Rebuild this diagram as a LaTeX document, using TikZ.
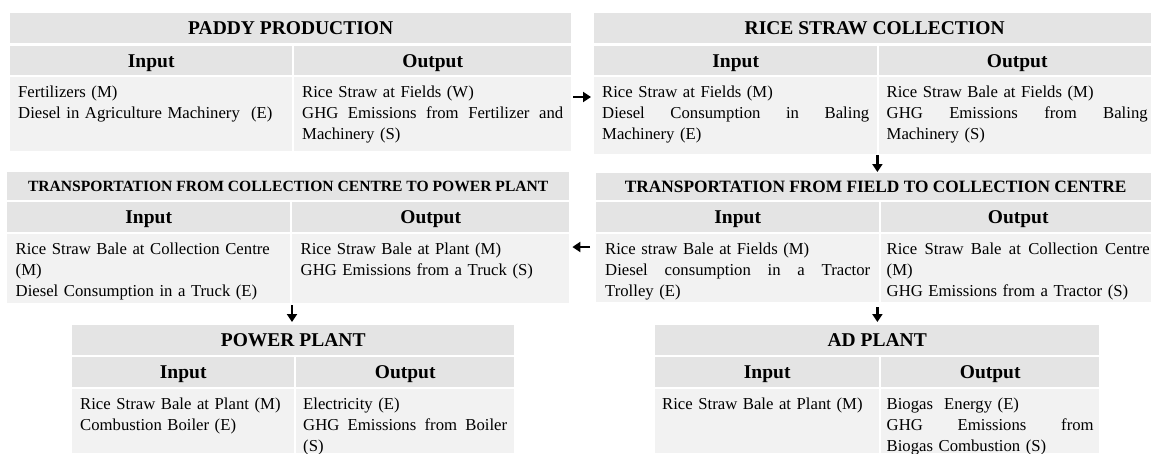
\documentclass[tikz,border=0pt]{standalone}
\usepackage{fontspec}
\setmainfont{Liberation Serif}
\usepackage{xcolor}
\usepackage{tikz}
\usetikzlibrary{arrows.meta,positioning,calc}
\definecolor{headgray}{HTML}{E4E4E4}
\definecolor{bodygray}{HTML}{F2F2F2}
\newcommand{\fullline}[2]{{\spaceskip=0.25em plus 1fil\xspaceskip=\spaceskip\makebox[#1][s]{#2}}}
\tikzset{
  titlecell/.style={fill=headgray, anchor=north west, inner sep=0pt, text depth=0pt, font=\fontsize{19.5}{22}\selectfont\bfseries},
  headcell/.style={fill=headgray, anchor=north west, inner sep=0pt, text depth=0pt, font=\fontsize{19.5}{22}\selectfont\bfseries},
  bodycell/.style={fill=bodygray, anchor=north west, inner xsep=8pt, inner ysep=5.5pt, text height=15pt, align=left, font=\fontsize{16.7}{20.8}\selectfont},
  arrowline/.style={-{Triangle[length=8pt,width=10pt]}, line width=2.6pt}
}

\begin{document}
\begin{tikzpicture}[x=1pt, y=-1pt]
  \useasboundingbox (0,0) rectangle (1151,453);

  \node[titlecell, minimum width=561pt, minimum height=30pt] (pdtitle) at (10,13) {PADDY PRODUCTION};
  \node[headcell, minimum width=282pt, minimum height=29pt] (pdinhead) at (10,46) {Input};
  \node[headcell, minimum width=277pt, minimum height=29pt] (pdouthead) at (294,46) {Output};
  \node[bodycell, text width=266pt, text depth=48pt] (pdin) at (10,77) {Fertilizers (M)\\Diesel in Agriculture Machinery~ (E)};
  \node[bodycell, text width=261pt, text depth=48pt] (pdout) at (294,77) {Rice Straw at Fields (W)\\\fullline{261pt}{GHG Emissions from Fertilizer and}\\Machinery (S)};

  \node[titlecell, minimum width=561pt, minimum height=30pt] (rstitle) at (594,13) {RICE STRAW COLLECTION};
  \node[headcell, minimum width=283pt, minimum height=29pt] (rsinhead) at (594,46) {Input};
  \node[headcell, minimum width=276pt, minimum height=29pt] (rsouthead) at (879,46) {Output};
  \node[bodycell, text width=267pt, text depth=51pt] (rsin) at (594,77) {Rice Straw at Fields (M)\\\fullline{267pt}{Diesel Consumption in Baling}\\Machinery (E)};
  \node[bodycell, inner xsep=7.5pt, text width=261pt, text depth=51pt] (rsout) at (879,77) {Rice Straw Bale at Fields (M)\\\fullline{261pt}{GHG Emissions from Baling}\\Machinery (S)};

  \node[titlecell, minimum width=562pt, minimum height=28pt, font=\fontsize{15.6}{18}\selectfont\bfseries] (cptitle) at (7,172) {TRANSPORTATION FROM COLLECTION CENTRE TO POWER PLANT};
  \node[headcell, minimum width=283pt, minimum height=30pt] (cpinhead) at (7,202) {Input};
  \node[headcell, minimum width=277pt, minimum height=30pt] (cpouthead) at (292,202) {Output};
  \node[bodycell, inner xsep=8.5pt, text width=266pt, text depth=43pt] (cpin) at (7,234) {Rice Straw Bale at Collection Centre\\(M)\\Diesel Consumption in a Truck (E)};
  \node[bodycell, inner xsep=8.5pt, text width=260pt, text depth=43pt] (cpout) at (292,234) {Rice Straw Bale at Plant (M)\\GHG Emissions from a Truck (S)};

  \node[titlecell, minimum width=559pt, minimum height=27pt, font=\fontsize{17.3}{20}\selectfont\bfseries] (fctitle) at (596,173) {TRANSPORTATION FROM FIELD TO COLLECTION CENTRE};
  \node[headcell, minimum width=283pt, minimum height=30pt] (fcinhead) at (596,202) {Input};
  \node[headcell, minimum width=274pt, minimum height=30pt] (fcouthead) at (881,202) {Output};
  \node[bodycell, inner xsep=9pt, text width=265pt, text depth=42pt] (fcin) at (596,234) {Rice straw Bale at Fields (M)\\\fullline{265pt}{Diesel consumption in a Tractor}\\Trolley (E)};
  \node[bodycell, inner xsep=5.5pt, text width=263pt, text depth=42pt] (fcout) at (881,234) {\fullline{263pt}{Rice Straw Bale at Collection Centre}\\(M)\\GHG Emissions from a Tractor (S)};

  \node[titlecell, minimum width=442pt, minimum height=30pt] (pwtitle) at (72,325) {POWER PLANT};
  \node[headcell, minimum width=222pt, minimum height=30pt] (pwinhead) at (72,357) {Input};
  \node[headcell, minimum width=218pt, minimum height=30pt] (pwouthead) at (296,357) {Output};
  \node[bodycell, text width=206pt, text depth=38pt] (pwin) at (72,389) {Rice Straw Bale at Plant (M)\\Combustion Boiler (E)};
  \node[bodycell, inner xsep=7pt, text width=204pt, text depth=38pt] (pwout) at (296,389) {Electricity (E)\\\fullline{204pt}{GHG Emissions from Boiler}\\(S)};

  \node[titlecell, minimum width=444pt, minimum height=30pt] (adtitle) at (655,325) {AD PLANT};
  \node[headcell, minimum width=224pt, minimum height=30pt] (adinhead) at (655,357) {Input};
  \node[headcell, minimum width=218pt, minimum height=30pt] (adouthead) at (881,357) {Output};
  \node[bodycell, inner xsep=7pt, text width=210pt, text depth=38pt] (adin) at (655,389) {Rice Straw Bale at Plant (M)};
  \node[bodycell, inner xsep=5.5pt, text width=207pt, text depth=38pt] (adout) at (881,389) {Biogas~ Energy (E)\\\fullline{207pt}{GHG Emissions from}\\Biogas Combustion (S)};

  \draw[arrowline] ([shift={(2pt,-20pt)}]pdout.north east) -- ([shift={(-3pt,-20pt)}]rsin.north west);
  \draw[arrowline] ([yshift=-1pt]rsin.south east) -- ([yshift=1pt]rsin.south east |- fctitle.north);
  \draw[arrowline] ([shift={(-6pt,-13pt)}]fcin.north west) -- ([shift={(3pt,-13pt)}]cpout.north east);
  \draw[arrowline] ([yshift=-2pt]cpout.south west) -- ([yshift=3pt]cpout.south west |- pwtitle.north);
  \draw[arrowline] ([shift={(-2pt,-5pt)}]fcin.south east) -- ([shift={(-2pt,3pt)}]fcin.south east |- adtitle.north);
\end{tikzpicture}
\end{document}
